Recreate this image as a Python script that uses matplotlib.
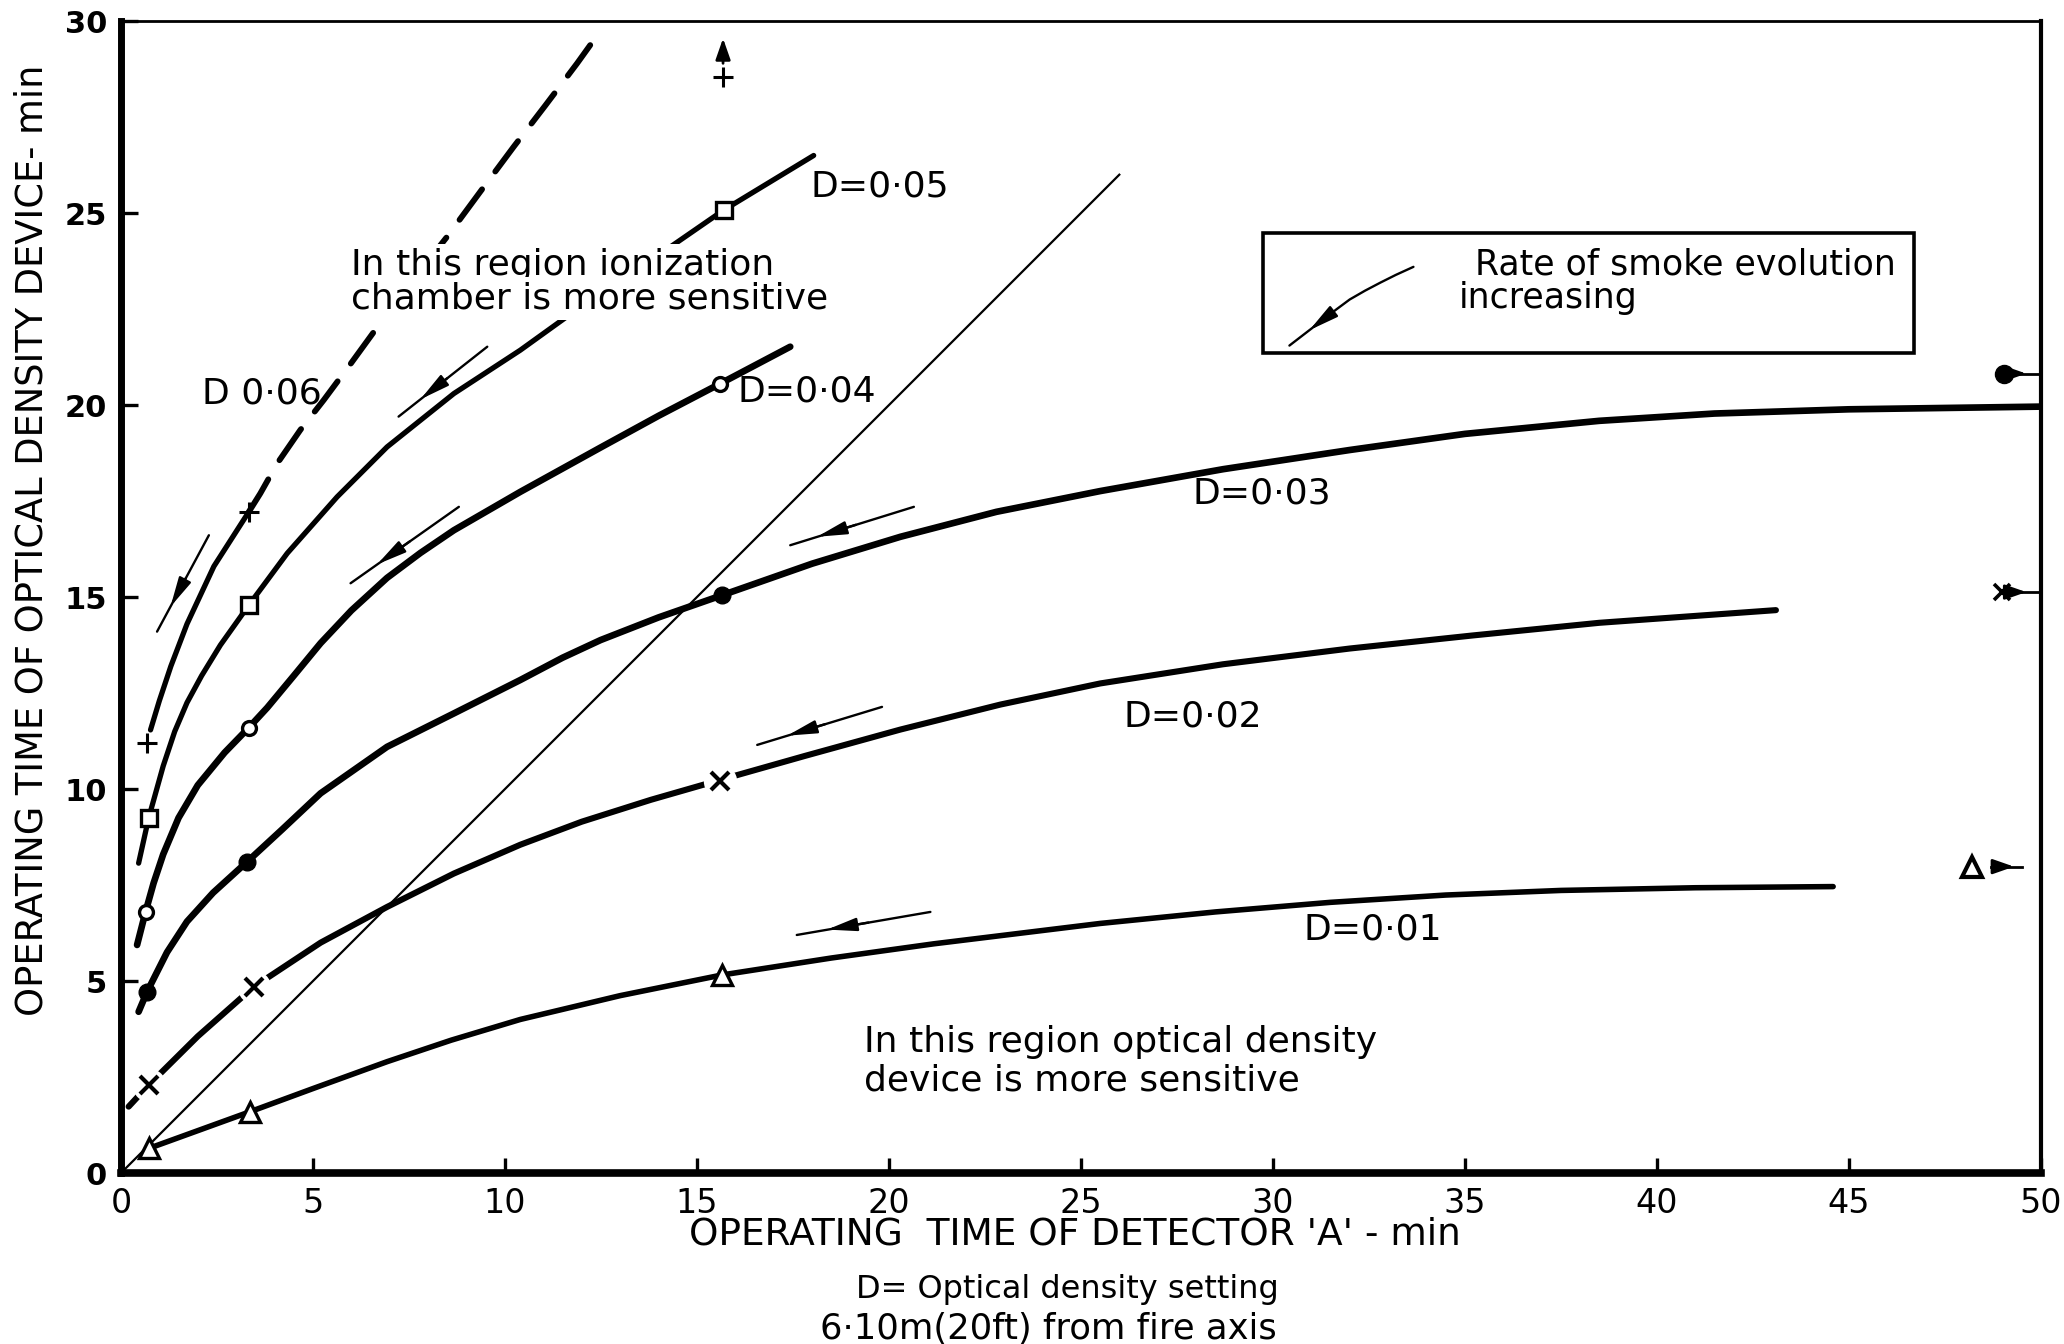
import matplotlib
matplotlib.use("Agg")
import matplotlib.pyplot as plt
from matplotlib.patches import Rectangle

plt.rcParams['font.family'] = ['DejaVu Sans']

# ---------------------------------------------------------------------------
# Curves: operating time of optical density device vs detector 'A' (min)
# ---------------------------------------------------------------------------
# D = 0.01  (open triangles)
d01_x = [0.72, 3.37, 5.0, 6.93, 8.6, 10.4, 13.0, 15.66, 18.5, 21.17, 25.5, 28.5, 31.5,
         34.5, 37.5, 41.0, 44.59]
d01_y = [0.64, 1.60, 2.20, 2.90, 3.46, 4.00, 4.62, 5.16, 5.60, 5.97, 6.50, 6.80, 7.05,
         7.24, 7.36, 7.43, 7.46]
d01_mx = [0.72, 3.37, 15.66]
d01_my = [0.64, 1.60, 5.16]

# D = 0.02  (crosses)
d02_x = [0.2, 0.72, 2.0, 3.46, 5.2, 6.93, 8.67, 10.4, 12.0, 13.8, 15.61, 17.8, 20.3,
         22.9, 25.5, 28.7, 32.0, 35.2, 38.5, 43.1]
d02_y = [1.73, 2.29, 3.56, 4.85, 6.0, 6.93, 7.8, 8.55, 9.15, 9.72, 10.24, 10.86, 11.55,
         12.2, 12.75, 13.25, 13.66, 14.0, 14.33, 14.66]
d02_mx = [0.72, 3.46, 15.61]
d02_my = [2.29, 4.85, 10.22]

# D = 0.03  (filled circles)
d03_x = [0.46, 0.68, 1.2, 1.72, 2.4, 3.29, 4.2, 5.2, 6.93, 8.67, 10.4, 11.5, 12.49, 14.0,
         15.66, 18.0, 20.3, 22.8, 25.5, 28.7, 32.0, 35.0, 38.5, 41.5, 45.0, 50.0]
d03_y = [4.2, 4.72, 5.75, 6.55, 7.3, 8.11, 8.95, 9.89, 11.1, 11.97, 12.84, 13.42, 13.88,
         14.47, 15.05, 15.87, 16.57, 17.22, 17.76, 18.33, 18.83, 19.25, 19.59, 19.78,
         19.89, 19.96]
d03_mx = [0.68, 3.29, 15.66]
d03_my = [4.72, 8.11, 15.05]

# D = 0.04  (open circles)
d04_x = [0.42, 0.64, 0.85, 1.1, 1.5, 2.0, 2.7, 3.33, 3.81, 4.5, 5.2, 6.0, 6.93, 7.8,
         8.67, 10.4, 12.5, 14.0, 15.61, 17.43]
d04_y = [5.94, 6.8, 7.55, 8.3, 9.25, 10.1, 10.95, 11.6, 12.12, 12.95, 13.8, 14.65, 15.5,
         16.15, 16.74, 17.74, 18.9, 19.72, 20.56, 21.52]
d04_mx = [0.64, 3.33, 15.61]
d04_my = [6.8, 11.6, 20.56]

# D = 0.05  (open squares)
d05_x = [0.46, 0.72, 1.1, 1.4, 1.72, 2.1, 2.59, 3.33, 4.33, 5.63, 6.93, 8.67, 10.4,
         11.79, 14.31, 15.7, 18.04]
d05_y = [8.07, 9.24, 10.6, 11.5, 12.25, 12.95, 13.75, 14.79, 16.14, 17.61, 18.91, 20.3,
         21.43, 22.43, 24.12, 25.08, 26.5]
d05_mx = [0.72, 3.33, 15.7]
d05_my = [9.24, 14.79, 25.08]

# D = 0.06  (plus signs): measured part solid, extrapolated part dashed
d06_x = [0.77, 1.0, 1.3, 1.72, 2.0, 2.42, 3.33]
d06_y = [11.54, 12.3, 13.2, 14.3, 14.9, 15.8, 17.22]
d06_ext_x = [3.33, 3.63, 4.07, 4.67, 5.28, 6.0, 6.8, 7.6, 8.49, 9.36, 10.23, 11.05, 11.88, 12.44]
d06_ext_y = [17.22, 17.7, 18.48, 19.35, 20.13, 21.1, 22.2, 23.25, 24.38, 25.56, 26.73, 27.8, 28.9, 29.68]
d06_mx = [0.68, 3.33, 15.68]
d06_my = [11.19, 17.22, 28.55]

# Equal operating time line
equal_x = [0, 26.0]
equal_y = [0, 26.0]

# Points beyond the plotted range (optical device slower than 50 min)
off_circle = (49.03, 20.82)
off_cross = (48.99, 15.13)
off_triangle = (48.2, 7.98)

# Arrows: rate of smoke evolution increasing (shaft points, arrow-head tip)
trend_arrows = [
    ([(2.29, 16.61), (0.94, 14.10)], (1.29, 14.75)),
    ([(9.54, 21.52), (7.23, 19.70)], (7.80, 20.15)),
    ([(8.80, 17.35), (5.98, 15.36)], (6.67, 15.85)),
    ([(20.65, 17.35), (17.43, 16.35)], (18.13, 16.57)),
    ([(19.82, 12.14), (16.57, 11.15)], (17.35, 11.39)),
    ([(21.08, 6.80), (17.60, 6.20)], (18.39, 6.34)),
    ([(33.66, 23.60), (33.2, 23.39), (32.8, 23.19), (32.4, 22.98), (32.0, 22.75),
      (31.65, 22.49), (31.3, 22.22), (30.43, 21.55)], (30.95, 21.95)),
]

# Key box
key_x0, key_x1 = 29.75, 46.7
key_y0, key_y1 = 21.35, 24.49

x_ticks = list(range(0, 51, 5))
y_ticks = list(range(0, 31, 5))

# ---------------------------------------------------------------------------
fig = plt.figure(figsize=(20.64, 13.44), dpi=100)
ax = fig.add_axes([0.0586, 0.1272, 0.9302, 0.8571])
ax.set_xlim(0, 50)
ax.set_ylim(0, 30)

HEAD = '-|>,head_length=0.9,head_width=0.2'


def curve(x, y, lw, **kw):
    ax.plot(x, y, color='black', lw=lw, solid_capstyle='round',
            solid_joinstyle='round', dash_capstyle='round', zorder=3, **kw)


curve(d01_x, d01_y, 4.0)
curve(d02_x, d02_y, 4.4)
curve(d03_x, d03_y, 4.8)
curve(d04_x, d04_y, 4.8)
curve(d05_x, d05_y, 3.8)
curve(d06_x, d06_y, 3.8)
curve(d06_ext_x, d06_ext_y, 4.2, dashes=(6.5, 3.8))
ax.plot(equal_x, equal_y, color='black', lw=1.6, zorder=2)

# gaps in the D = 0.02 curve around its crosses
ax.plot(d02_mx, d02_my, ls='none', marker='o', ms=24, mfc='white', mec='none', zorder=4)

mk = dict(ls='none', color='black', zorder=5)
ax.plot(d01_mx, d01_my, marker='^', ms=14, mfc='white', mec='black', mew=2.4, **mk)
ax.plot(d02_mx, d02_my, marker='x', ms=13, mew=3.0, **mk)
ax.plot(d03_mx, d03_my, marker='o', ms=12, mfc='black', mec='black', **mk)
ax.plot(d04_mx, d04_my, marker='o', ms=10, mfc='white', mec='black', mew=2.4, **mk)
ax.plot(d05_mx, d05_my, marker='s', ms=11, mfc='white', mec='black', mew=2.4, **mk)
ax.plot(d06_mx, d06_my, marker='+', ms=15, mew=2.2, **mk)

# points off the right edge, with arrows pointing beyond 50 min
small_head = dict(arrowstyle='-|>,head_length=0.8,head_width=0.28',
                  mutation_scale=16, lw=2.0, color='black', shrinkA=0, shrinkB=0)
ax.plot(*off_circle, marker='o', ms=13, mfc='black', mec='black', **mk)
ax.plot(*off_cross, marker='x', ms=11, mew=2.6, **mk)
ax.plot(*off_triangle, marker='^', ms=15, mfc='white', mec='black', mew=3.0, **mk)
for (px, py) in [off_circle, off_cross]:
    ax.plot([px + 0.25, 50.0], [py, py], color='black', lw=2.0, zorder=5)
    ax.annotate('', xy=(49.62, py), xytext=(49.25, py), arrowprops=small_head, zorder=5)
ax.plot([off_triangle[0] + 0.5, off_triangle[0] + 1.3],
        [off_triangle[1]] * 2, color='black', lw=2.0, zorder=5)
ax.annotate('', xy=(off_triangle[0] + 1.1, off_triangle[1]),
            xytext=(off_triangle[0] + 0.7, off_triangle[1]), arrowprops=small_head, zorder=5)

# the D = 0.06 point beyond the top of the chart
ax.annotate('', xy=(d06_mx[2], 29.55), xytext=(d06_mx[2], 28.9),
            arrowprops=small_head, zorder=5)

# trend arrows
for pts, tip in trend_arrows:
    xs = [p[0] for p in pts]
    ys = [p[1] for p in pts]
    ax.plot(xs, ys, color='black', lw=1.7, solid_capstyle='round',
            solid_joinstyle='round', zorder=4)
    # head drawn along the shaft segment that contains the tip
    k = 0
    while k < len(pts) - 2 and not (min(xs[k], xs[k + 1]) <= tip[0] <= max(xs[k], xs[k + 1])):
        k += 1
    back = pts[k] if len(pts) == 2 else pts[max(k - 1, 0)]
    pre = (tip[0] + 0.4 * (back[0] - tip[0]), tip[1] + 0.4 * (back[1] - tip[1]))
    ax.annotate('', xy=tip, xytext=pre,
                arrowprops=dict(arrowstyle=HEAD, mutation_scale=20, lw=1.7,
                                color='black', shrinkA=0, shrinkB=0), zorder=4)

# key box
ax.add_patch(Rectangle((key_x0, key_y0), key_x1 - key_x0, key_y1 - key_y0,
                       fill=False, lw=2.6, ec='black', zorder=4))
ax.text(35.25, 23.66, 'Rate of smoke evolution', fontsize=25, ha='left', va='center')
ax.text(34.85, 22.78, 'increasing', fontsize=25, ha='left', va='center')

# curve labels
lab = dict(fontsize=26, ha='left', va='center', zorder=6)
ax.text(17.96, 25.69, 'D=0·05', **lab)
ax.text(2.11, 20.30, 'D 0·06', **lab)
ax.text(16.05, 20.35, 'D=0·04', **lab)
ax.text(27.9, 17.70, 'D=0·03', **lab)
ax.text(26.1, 11.88, 'D=0·02', **lab)
ax.text(30.8, 6.35, 'D=0·01', **lab)

# region notes
note = dict(fontsize=26, ha='left', va='center', zorder=6)
wb = dict(facecolor='white', edgecolor='none', pad=3)
ax.text(5.98, 23.65, 'In this region ionization', bbox=wb, **note)
ax.text(5.98, 22.78, 'chamber is more sensitive', bbox=wb, **note)
ax.text(19.34, 3.42, 'In this region optical density', **note)
ax.text(19.34, 2.42, 'device is more sensitive', **note)

# axes styling
ax.set_xticks(x_ticks)
ax.set_yticks(y_ticks)
ax.set_xticklabels([str(v) for v in x_ticks], fontsize=24)
ax.set_yticklabels([str(v) for v in y_ticks], fontsize=22, fontweight='bold')
ax.tick_params(axis='x', direction='in', length=11, width=2.4, pad=10, top=False)
ax.tick_params(axis='y', direction='in', length=12, width=2.4, pad=10, right=False)
ax.spines['left'].set_linewidth(5.0)
ax.spines['bottom'].set_linewidth(5.5)
ax.spines['top'].set_linewidth(2.0)
ax.spines['right'].set_linewidth(3.0)

fig.text(0.0155, 0.598, 'OPERATING TIME OF OPTICAL DENSITY DEVICE- min',
         rotation=90, ha='center', va='center', fontsize=26.5)
fig.text(0.5206, 0.0818, "OPERATING  TIME OF DETECTOR 'A' - min",
         ha='center', va='center', fontsize=27)
fig.text(0.517, 0.0409, 'D= Optical density setting',
         ha='center', va='center', fontsize=23)
fig.text(0.508, 0.0115, '6·10m(20ft) from fire axis',
         ha='center', va='center', fontsize=25.5)

fig.savefig('out.png', dpi=100, facecolor='white')
